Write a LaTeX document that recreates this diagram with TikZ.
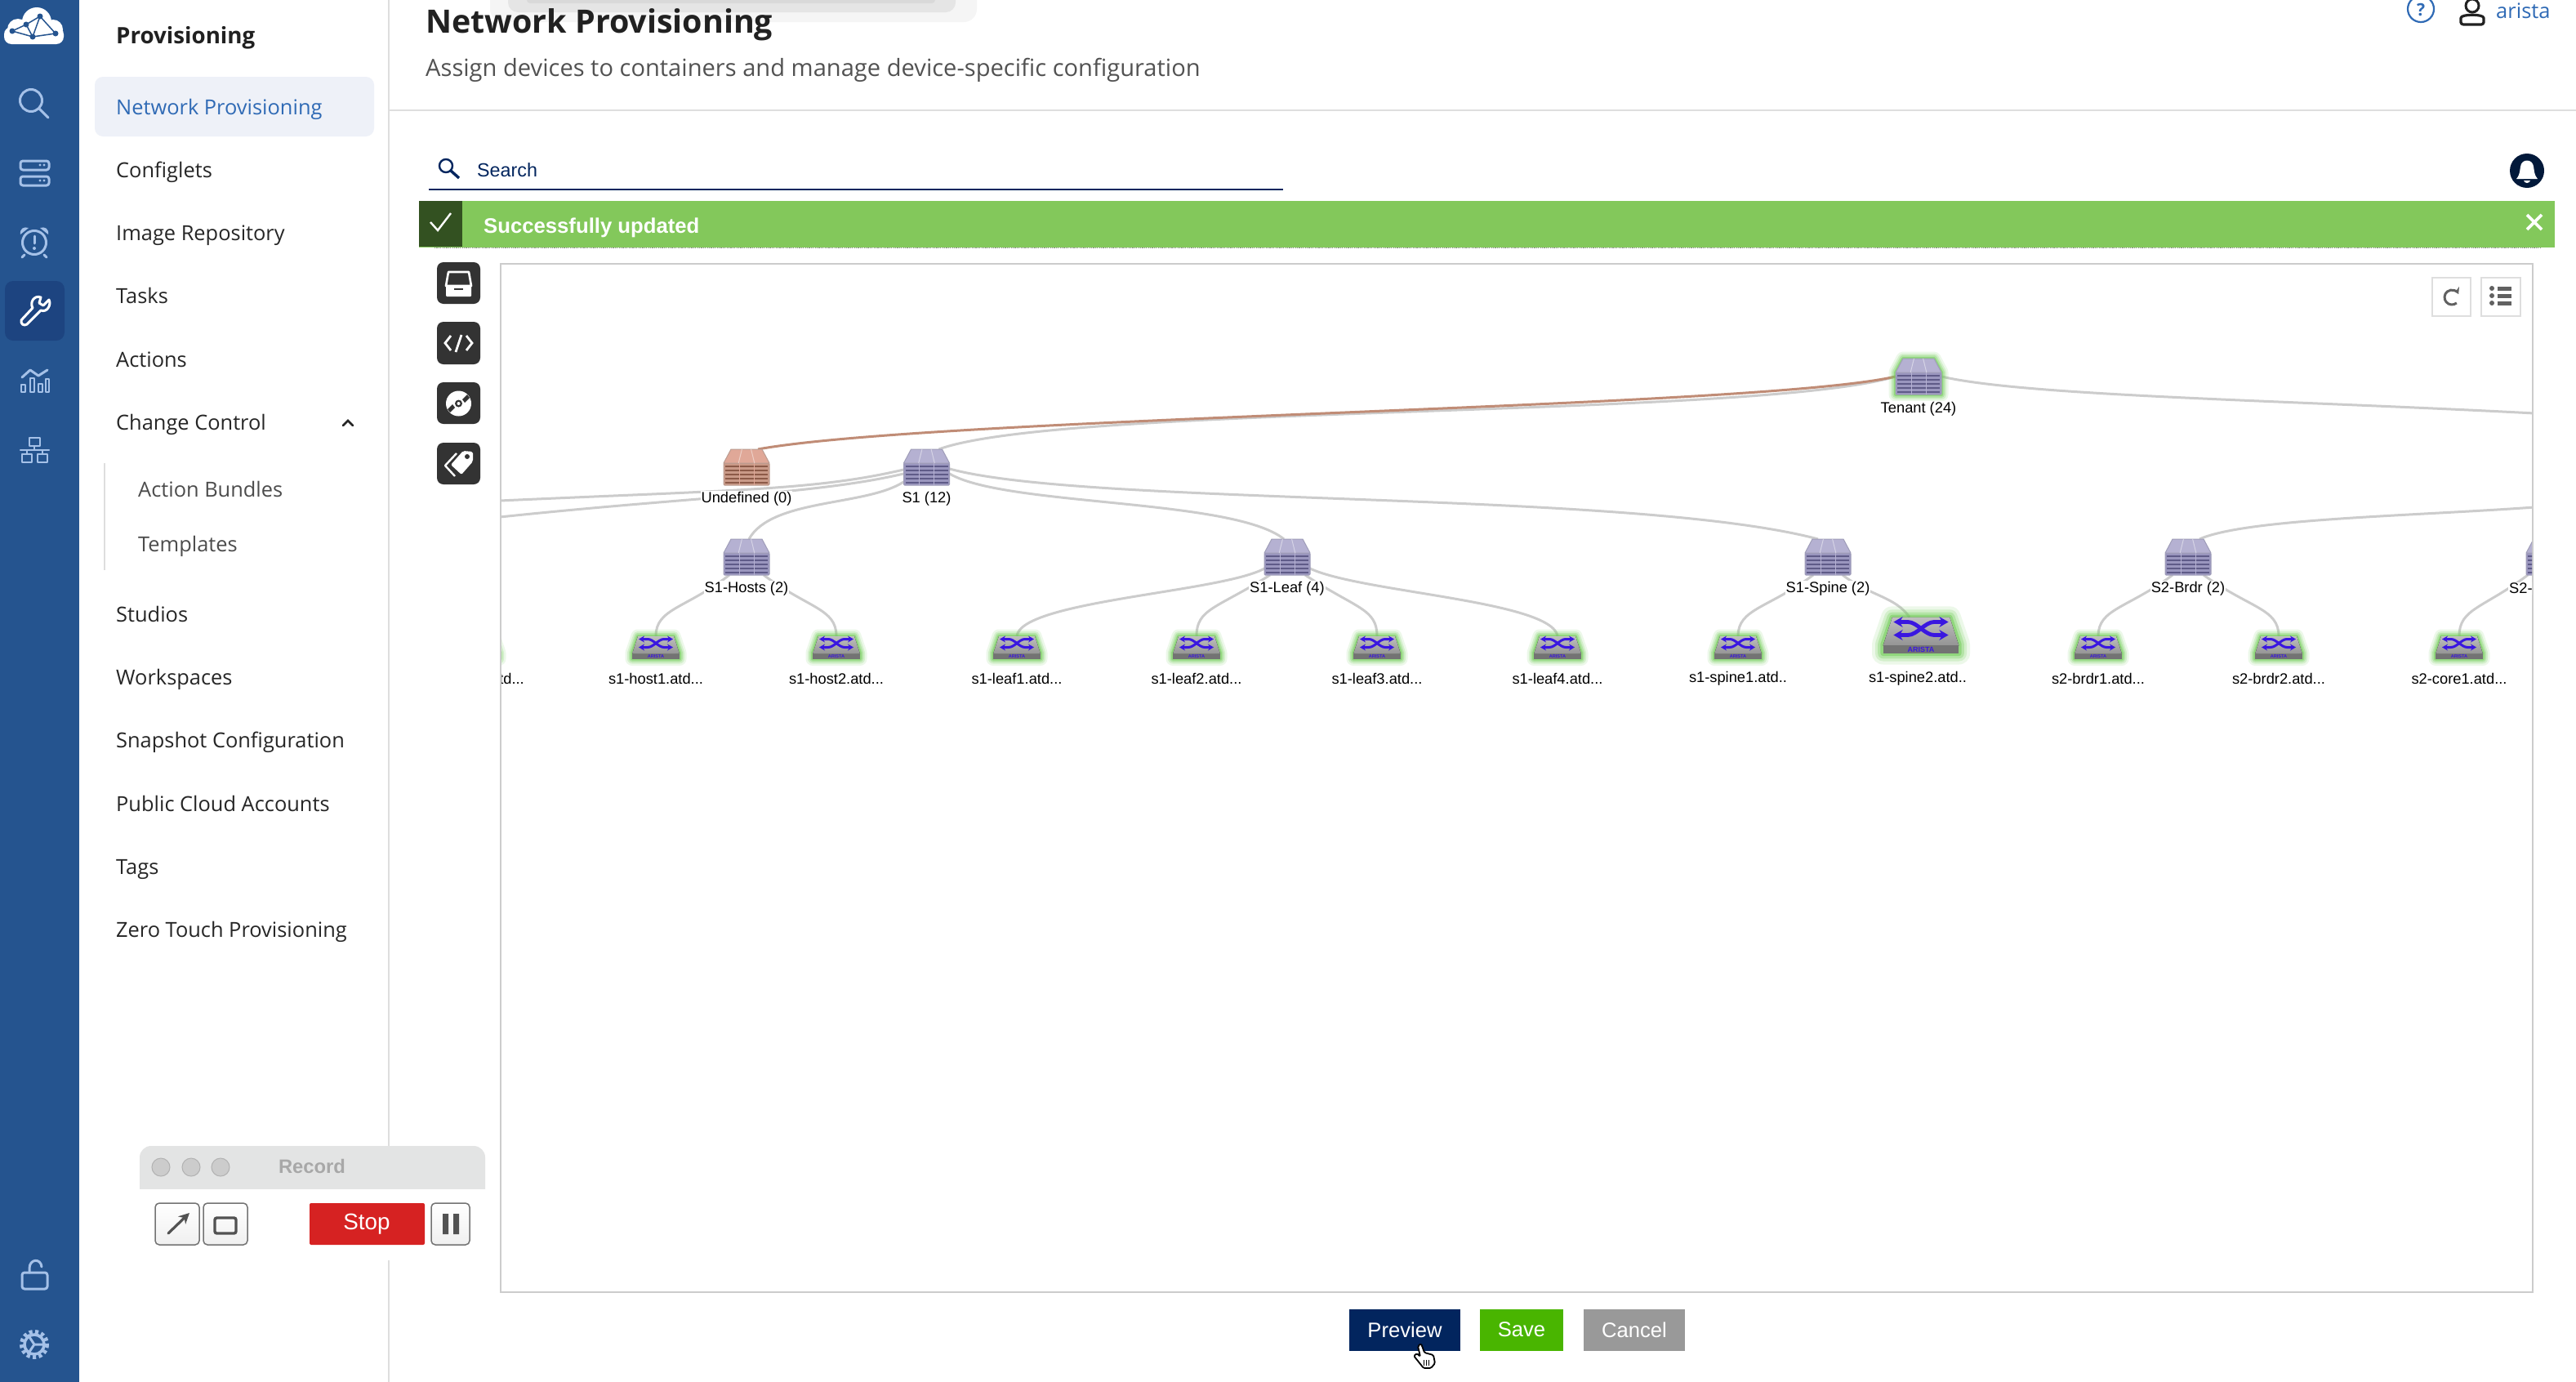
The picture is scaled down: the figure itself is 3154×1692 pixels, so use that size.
\documentclass[tikz,border=0pt]{standalone}
\usepackage{fontspec}
\setmainfont{Open Sans}
\newfontfamily\arialf{Liberation Sans}
\usetikzlibrary{arrows.meta,backgrounds,calc}
\newcommand\fs[1]{\fontsize{#1}{#1}\selectfont}
\definecolor{side}{HTML}{25548F}
\definecolor{sidedark}{HTML}{1D4480}
\definecolor{ico}{HTML}{A5C1E8}
\definecolor{navy}{HTML}{02255E}
\definecolor{linkb}{HTML}{2F6AB5}
\definecolor{bar}{HTML}{83C85B}
\definecolor{bardark}{HTML}{335121}
\definecolor{edgeg}{HTML}{CCCCCC}
\definecolor{edgeb}{HTML}{C08C76}
\definecolor{glow}{HTML}{6FCB55}
\definecolor{swblue}{HTML}{3A17E0}
\definecolor{tb}{HTML}{333333}
\definecolor{selrow}{HTML}{EEF1F8}
\definecolor{bellc}{HTML}{02193A}
\definecolor{wintop}{HTML}{E3E4E4}
\definecolor{stopc}{HTML}{D62222}
\definecolor{savec}{HTML}{49B500}
\definecolor{ctop}{HTML}{B5B1D2}\definecolor{cbody}{HTML}{9A96BE}\definecolor{cline}{HTML}{5F5B88}
\definecolor{btop}{HTML}{E0A898}\definecolor{bbody}{HTML}{C99A88}\definecolor{bline}{HTML}{8C5A48}
\tikzset{
 menu/.style={anchor=base west,inner sep=0pt,text=black!85,font=\fs{25.4}},
 submenu/.style={menu,text=black!70},
 gl/.style={font={\arialf\fs{18.3}},fill=white,inner sep=1pt,text=black},
 gedge/.style={draw=edgeg,line width=3pt},
 sideicon/.style={draw=ico,line width=3pt,line cap=round,line join=round},
 btn/.style={anchor=center,inner sep=0pt,text=white,font={\arialf\fs{25.6}}},
 recbtn/.style={draw=black!55,line width=1.5pt,rounded corners=5pt,top color=white,bottom color=black!6},
 tool/.style={fill=tb,rounded corners=8pt},
 small/.style={draw=black!13,line width=2pt},
 nodebox/.style={inner sep=0pt,minimum width=56pt,minimum height=44pt},
}
\newcommand\chassis[6]{%
 \node[nodebox] (#1) at (#2,#3) {};
 \begin{scope}[shift={(#2,#3)}]
  \fill[#5,draw=#6!60,line width=1pt,rounded corners=1pt] (-28,-5) rectangle (28,22);
  \fill[#4,draw=#6!60,line width=1pt,line join=round] (-19,-22)--(19,-22)--(28,-5)--(-28,-5)--cycle;
  \foreach \u in {-7,7} \draw[white,opacity=.45,line width=1pt] (\u*.8,-22)--(\u*1.4,-5);
  \foreach \v in {-1,4,9,14,19} \draw[#6,line width=1.7pt] (-26,\v)--(26,\v);
  \foreach \u in {-9,9} \draw[#4,line width=1pt] (\u,-5)--(\u,22);
 \end{scope}}
\newcommand\switchbox[4]{%
 \pgfmathsetmacro\al{#4*7}\pgfmathsetmacro\aw{#4*8}\pgfmathsetmacro\as{#4*5.6}%
 \node[inner sep=0pt,minimum width=#4*58pt,minimum height=#4*27pt] (#1) at (#2,#3) {};
 \begin{scope}[shift={(#2,#3)},scale=#4]
  \foreach \g/\o in {17/.13,12/.2,8/.3,4/.5}
   \draw[glow,opacity=\o,line width=#4*\g pt,line join=round] (-22,-13.5)--(22,-13.5)--(29,7)--(29,14)--(-29,14)--(-29,7)--cycle;
  \fill[top color=black!25,bottom color=black!42] (-22,-13.5)--(22,-13.5)--(29,8)--(-29,8)--cycle;
  \fill[black!55] (-29,8) rectangle (29,14);
  \begin{scope}[swblue,line width=#4*3pt]
   \draw[{Stealth[length=\al pt,width=\aw pt]}-{Stealth[length=\al pt,width=\aw pt]}] (-21,0)--(-10,0) .. controls (-3,0) and (3,-10) .. (10,-10)--(21,-10);
   \draw[{Stealth[length=\al pt,width=\aw pt]}-{Stealth[length=\al pt,width=\aw pt]}] (-21,-10)--(-10,-10) .. controls (-3,-10) and (3,0) .. (10,0)--(21,0);
  \end{scope}
  \node[inner sep=0pt,text=swblue,font={\arialf\bfseries\fontsize{\as}{\as}\selectfont}] (#1-brand) at (0,11) {ARISTA};
 \end{scope}}
\begin{document}
\begin{tikzpicture}[x=1pt,y=-1pt]
\useasboundingbox (0,0) rectangle (3154,1692);
\begin{scope}[on background layer]
 \fill[white] (0,0) rectangle (3154,1692);
\end{scope}
% ---------- left rail
\fill[side] (0,0) rectangle (97,1692);
\fill[sidedark,rounded corners=10pt] (6,344) rectangle (79,417);
% logo
\fill[white] (45,27) circle (18) (22,36) circle (13) (65,36) circle (12);
\fill[white,rounded corners=9pt] (5,54) rectangle (78,33);
\draw[side,line width=1.5pt] (15,38)--(32,30)--(49,20)--(68,41)--(40,45)--(15,38) (32,30)--(40,45)--(49,20);
\foreach \p in {(15,38),(32,30),(49,20),(68,41),(40,45)} \fill[side] \p circle (3.5);
% search
\draw[sideicon] (38,123) circle (13.5) (48,133)--(59,144);
% servers
\draw[sideicon,rounded corners=3pt] (25,197) rectangle (60,208) (25,216) rectangle (60,227);
\fill[ico] (49,202) circle (1.6) (54,202) circle (1.6) (49,221) circle (1.6) (54,221) circle (1.6);
% alarm
\draw[sideicon] (42,297) circle (14.5) (30,312)--(27,315) (54,312)--(57,315);
\fill[ico] (25,287) .. controls (24,280) and (29,277) .. (35,279) -- cycle (59,287) .. controls (60,280) and (55,277) .. (49,279) -- cycle;
\draw[ico,line width=3pt,line cap=round] (42,289)--(42,298);
\fill[ico] (42,304) circle (2);
% wrench
\draw[white,line width=3pt,line join=round,line cap=round] (26,392) .. controls (25,396) and (29,400) .. (33,397) -- (50,380) .. controls (58,383) and (63,373) .. (60,367) -- (53,374) -- (48,371) -- (50,364) .. controls (42,361) and (36,370) .. (40,377) -- cycle;
% chart
\draw[sideicon,line width=2.5pt] (26,471) rectangle (31,480) (37,463) rectangle (42,480) (47,470) rectangle (52,480) (56,464) rectangle (60,480);
\draw[sideicon] (27,462)--(37,453)--(47,460)--(58,453);
% network
\draw[sideicon,line width=2.5pt] (36,536) rectangle (49,546) (27,556) rectangle (39,566) (46,556) rectangle (58,566) (25,551)--(60,551) (42,546)--(42,551) (33,551)--(33,556) (52,551)--(52,556);
% lock
\draw[sideicon,rounded corners=3pt] (27,1558) rectangle (58,1578);
\draw[sideicon] (36,1558) -- (36,1553) .. controls (36,1541) and (50,1540) .. (51,1551);
% gear
\draw[ico,line width=5pt,dash pattern=on 4pt off 3.4pt] (42,1646) circle (15.5);
\draw[ico,line width=3.5pt] (42,1646) circle (12);
\draw[ico,line width=3pt] (42,1646)--(56,1646) (42,1646)--(34,1634) (42,1646)--(34,1658);
% ---------- menu panel
\draw[black!13,line width=2pt] (475.5,0)--(475.5,1692);
\node[menu,font=\bfseries\fs{27.7},text=black!87] (mProv) at (142,53) {Provisioning};
\fill[selrow,rounded corners=10pt] (116,94) rectangle (458,167);
\node[menu,text=linkb] (mNet) at (142,140) {Network Provisioning};
\node[menu] (mCfg) at (142,217.5) {Configlets};
\node[menu] (mImg) at (142,294.5) {Image Repository};
\node[menu] (mTsk) at (142,371.5) {Tasks};
\node[menu] (mAct) at (142,449) {Actions};
\node[menu] (mChg) at (142,526) {Change Control};
\draw[black!85,line width=2.5pt,line cap=round] (420,521)--(426,515)--(432,521);
\draw[black!13,line width=2pt] (128,567)--(128,698);
\node[submenu] (mBun) at (169,608) {Action Bundles};
\node[submenu] (mTpl) at (169,675) {Templates};
\node[menu] (mStu) at (142,761) {Studios};
\node[menu] (mWrk) at (142,838.5) {Workspaces};
\node[menu] (mSnp) at (142,915.5) {Snapshot Configuration};
\node[menu] (mPub) at (142,993) {Public Cloud Accounts};
\node[menu] (mTag) at (142,1070.5) {Tags};
\node[menu] (mZtp) at (142,1147.5) {Zero Touch Provisioning};
% ---------- header
\fill[black!4,rounded corners=16pt] (600,-30) rectangle (1196,27);
\fill[black!10,rounded corners=12pt] (622,-30) rectangle (1170,15);
\fill[black!15,rounded corners=4pt] (645,-30) rectangle (1145,4);
\node[menu,font=\bfseries\fs{39.4},text=black!87] (title) at (521,40) {Network Provisioning};
\node[menu,font=\fs{29.1},text=black!68] (subtitle) at (521,93) {Assign devices to containers and manage device-specific configuration};
\draw[black!13,line width=2pt] (476,135)--(3154,135);
% top right
\draw[linkb,line width=2.2pt] (2964,11) circle (16);
\node[inner sep=0pt,text=linkb,font=\bfseries\fs{21}] (helpq) at (2964,12) {?};
\draw[black!87,line width=3pt] (3027,7) circle (8);
\draw[black!87,line width=3.2pt,line join=round,rounded corners=3pt] (3013,30)--(3013,25) .. controls (3013,17) and (3041,17) .. (3041,25)--(3041,30)--cycle;
\node[menu,text=linkb,font=\fs{25.5}] (user) at (3056,22) {arista};
% search
\draw[navy,line width=2.4pt] (546,203) circle (8);
\draw[navy,line width=3.4pt] (552,209)--(562,218);
\node[anchor=base west,inner sep=0pt,text=navy,font={\arialf\fs{23.3}}] (srch) at (584,216) {Search};
\draw[navy,line width=2pt] (525,232)--(1571,232);
\fill[bellc] (3094,209) circle (21);
\fill[white] (3081,219) .. controls (3086,213) and (3085,208) .. (3086,204) .. controls (3087,194) and (3101,194) .. (3102,204) .. controls (3103,208) and (3102,213) .. (3107,219) -- cycle;
\fill[white] (3090,221) .. controls (3091,225) and (3097,225) .. (3098,221) -- cycle;
% banner
\fill[bar] (513,246) rectangle (3128,303);
\fill[bardark] (513,246) rectangle (566,302);
\draw[white,line width=2.4pt] (527,272)--(536,282)--(552,261);
\node[anchor=base west,inner sep=0pt,text=white,font={\arialf\bfseries\fs{25.7}}] (okmsg) at (592,285) {Successfully updated};
\draw[white,line width=3.6pt] (3094,263)--(3112,281) (3112,263)--(3094,281);
\draw[black!45,line width=1.6pt,dash pattern=on 1.2pt off 1.2pt] (532,303.5)--(3110,303.5);
% toolbar
\fill[tool] (535,321) rectangle (588,372);
\draw[white,line width=2.6pt,line join=round] (549,333)--(574,333)--(577,350)--(546,350)--cycle;
\fill[white,rounded corners=1pt] (546,350) rectangle (577,363);
\fill[tb] (556,353) rectangle (567,355);
\fill[tool] (535,394) rectangle (588,446);
\draw[white,line width=2.8pt] (552,411)--(545,420)--(552,429) (571,411)--(578,420)--(571,429) (565,410)--(558,431);
\fill[tool] (535,468) rectangle (588,519);
\fill[white] (561.5,494) circle (15.5);
\fill[tb] (561.5,494) circle (4.5);
\fill[white] (561.5,494) circle (2);
\fill[tb] (566,489)--(572,483)--(575,487)--(569,493)--cycle (557,499)--(551,505)--(548,501)--(554,495)--cycle;
\fill[tool] (535,542) rectangle (588,593);
\fill[white,rounded corners=2pt] (552,569)--(567,552)--(579,553)--(579,565)--(565,581)--cycle;
\fill[tb] (572,559) circle (3);
\draw[white,line width=2.4pt,line join=round] (559,555)--(545,570)--(557,583);
% graph panel
\draw[black!20,line width=2pt] (613,323) rectangle (3101,1582);
\draw[small] (2978,340) rectangle (3025,387);
\draw[small] (3038,340) rectangle (3086,387);
\draw[black!62,line width=3pt,-{Stealth[length=8pt,width=9pt]}] (3007.8,370.9) arc (50:335:9);
\foreach \v in {353,362,371} {\fill[black!62] (3051,\v) circle (3); \fill[black!62] (3058,\v-2.5) rectangle (3075,\v+2.5);}
% ---------- topology
\begin{scope}
\clip (614,324) rectangle (3100,1581);
% tenant glow
\foreach \g/\o in {17/.13,12/.2,8/.3,4/.5}
 \draw[glow,opacity=\o,line width=\g pt,line join=round] (2330,439)--(2368,439)--(2377,456)--(2377,483)--(2321,483)--(2321,456)--cycle;
\chassis{tenant}{2349}{461}{ctop}{cbody}{cline}
\chassis{undef}{914}{572}{btop}{bbody}{bline}
\chassis{sOne}{1134.5}{572}{ctop}{cbody}{cline}
\chassis{hosts}{914}{682}{ctop}{cbody}{cline}
\chassis{leafs}{1576}{682}{ctop}{cbody}{cline}
\chassis{spines}{2238}{682}{ctop}{cbody}{cline}
\chassis{brdr}{2679}{682}{ctop}{cbody}{cline}
\chassis{core}{3121}{682}{ctop}{cbody}{cline}
\coordinate (offR) at (3103,506);
\coordinate (offQ) at (3103,621);
\coordinate (offA) at (612,613);
\coordinate (offB) at (612,633);
\node[gl] (lTen) at (2349,500.5) {Tenant (24)};
\node[gl] (lUnd) at (914,610.5) {Undefined (0)};
\node[gl] (lOne) at (1134.5,610.5) {S1 (12)};
\node[gl] (lHst) at (914,720.5) {S1-Hosts (2)};
\node[gl] (lLfs) at (1576,720.5) {S1-Leaf (4)};
\node[gl] (lSpn) at (2238,720.5) {S1-Spine (2)};
\node[gl] (lBrd) at (2679,720.5) {S2-Brdr (2)};
\node[gl,anchor=west] (lCor) at (3071,720.5) {S2-};
\switchbox{swX}{582}{792.5}{1}
\switchbox{swHa}{803}{792.5}{1}
\switchbox{swHb}{1024}{792.5}{1}
\switchbox{swLa}{1245}{792.5}{1}
\switchbox{swLb}{1465}{792.5}{1}
\switchbox{swLc}{1686}{792.5}{1}
\switchbox{swLd}{1907}{792.5}{1}
\switchbox{swSa}{2128}{792.5}{1}
\switchbox{swSb}{2352}{777.5}{1.6}
\switchbox{swBa}{2569}{792.5}{1}
\switchbox{swBb}{2790}{792.5}{1}
\switchbox{swCa}{3011}{792.5}{1}
\node[gl,anchor=east] (lX) at (643,831) {td...};
\node[gl] (lHa) at (803,831) {s1-host1.atd...};
\node[gl] (lHb) at (1024,831) {s1-host2.atd...};
\node[gl] (lLa) at (1245,831) {s1-leaf1.atd...};
\node[gl] (lLb) at (1465,831) {s1-leaf2.atd...};
\node[gl] (lLc) at (1686,831) {s1-leaf3.atd...};
\node[gl] (lLd) at (1907,831) {s1-leaf4.atd...};
\node[gl] (lSa) at (2128,831) {s1-spine1.atd..};
\node[gl] (lSb) at (2348,831) {s1-spine2.atd..};
\node[gl] (lBa) at (2569,831) {s2-brdr1.atd...};
\node[gl] (lBb) at (2790,831) {s2-brdr2.atd...};
\node[gl] (lCa) at (3011,831) {s2-core1.atd...};
\end{scope}
\begin{scope}[on background layer]
\clip (614,324) rectangle (3100,1581);
\path[gedge] ([shift={(15,-22)}]sOne.center) .. controls (1300,495) and (2150,512) .. (tenant.west);
\path[draw=edgeb,line width=3pt] ([shift={(14,-22)}]undef.center) .. controls (1150,510) and (2150,500) .. (tenant.west);
\path[gedge] (tenant.east) .. controls (2480,485) and (2800,490) .. (offR);
\path[gedge] ([shift={(14,-22)}]brdr.center) .. controls (2750,635) and (2950,632) .. (offQ);
\path[gedge] ([shift={(0,3)}]sOne.west) .. controls (1000,600) and (900,600) .. (offA);
\path[gedge] ([shift={(0,8)}]sOne.west) .. controls (1000,605) and (850,608) .. (offB);
\path[gedge] ([shift={(0,18)}]sOne.west) .. controls (1060,620) and (945,610) .. ([shift={(3,-22)}]hosts.center);
\path[gedge] ([shift={(0,8)}]sOne.east) .. controls (1230,620) and (1510,610) .. ([shift={(-4,-22)}]leafs.center);
\path[gedge] ([shift={(0,2)}]sOne.east) .. controls (1330,620) and (2000,600) .. ([shift={(-12,-22)}]spines.center);
\path[gedge] ([shift={(-21,22)}]hosts.center) .. controls (840,745) and (803,745) .. (swHa.north);
\path[gedge] ([shift={(21,22)}]hosts.center) .. controls (990,745) and (1024,745) .. (swHb.north);
\path[gedge] ([shift={(-26,13)}]leafs.center) .. controls (1500,725) and (1250,735) .. (swLa.north);
\path[gedge] ([shift={(-21,22)}]leafs.center) .. controls (1490,745) and (1465,745) .. (swLb.north);
\path[gedge] ([shift={(22,22)}]leafs.center) .. controls (1660,745) and (1686,745) .. (swLc.north);
\path[gedge] ([shift={(26,13)}]leafs.center) .. controls (1660,725) and (1900,735) .. (swLd.north);
\path[gedge] ([shift={(-18,22)}]spines.center) .. controls (2165,745) and (2128,745) .. (swSa.north);
\path[gedge] ([shift={(18,22)}]spines.center) .. controls (2290,730) and (2320,730) .. ([shift={(-14,0)}]swSb.north);
\path[gedge] ([shift={(-19,22)}]brdr.center) .. controls (2605,745) and (2569,745) .. (swBa.north);
\path[gedge] ([shift={(19,22)}]brdr.center) .. controls (2755,745) and (2790,745) .. (swBb.north);
\path[gedge] ([shift={(-26,22)}]core.center) .. controls (3040,745) and (3011,745) .. (swCa.north);
\end{scope}
% ---------- record window
\fill[white] (171,1440) rectangle (594,1543);
\fill[wintop,rounded corners=14pt] (171,1470) -- (171,1403) -- (594,1403) -- (594,1470) -- cycle;
\fill[white] (170,1456) rectangle (595,1480);
\foreach \u in {197,234,270} \fill[black!20,draw=black!30,line width=1pt] (\u,1429) circle (11);
\node[inner sep=0pt,text=black!34,font={\arialf\bfseries\fs{23.8}}] (rec) at (382,1428) {Record};
\draw[recbtn] (190,1473) rectangle (244,1524);
\draw[recbtn] (249,1473) rectangle (303,1524);
\draw[recbtn] (528,1473) rectangle (575,1524);
\fill[stopc,rounded corners=2pt] (379,1473) rectangle (520,1524);
\node[inner sep=0pt,text=white,font={\arialf\fs{27.8}}] (stop) at (449,1499) {Stop};
\draw[black!68,line width=3.2pt,line cap=round,-{Stealth[length=13pt,width=13pt]}] (206,1510)--(232,1485);
\draw[black!68,line width=3.4pt,rounded corners=2.5pt] (263,1491) rectangle (289,1510);
\fill[black!68] (542,1486) rectangle (549,1511) (555,1486) rectangle (562,1511);
% ---------- action buttons
\fill[navy] (1652,1603) rectangle (1788,1654);
\node[btn] (bPrev) at (1720,1628) {Preview};
\fill[savec] (1812,1603) rectangle (1914,1654);
\node[btn] (bSave) at (1863,1628) {Save};
\fill[black!40] (1939,1603) rectangle (2063,1654);
\node[btn] (bCanc) at (2001,1628) {Cancel};
% cursor
\draw[black,fill=white,line width=1.8pt,line join=round,rounded corners=1.5pt] (1736,1648)--(1740,1645)--(1744,1656)--(1755,1659)--(1757,1669)--(1752,1675)--(1743,1675)--(1731,1660)--(1735,1657)--(1739,1661)--cycle;
\draw[black,line width=1pt] (1743,1665)--(1743,1672) (1746,1665)--(1746,1672) (1749,1665)--(1749,1672);
\end{tikzpicture}
\end{document}
